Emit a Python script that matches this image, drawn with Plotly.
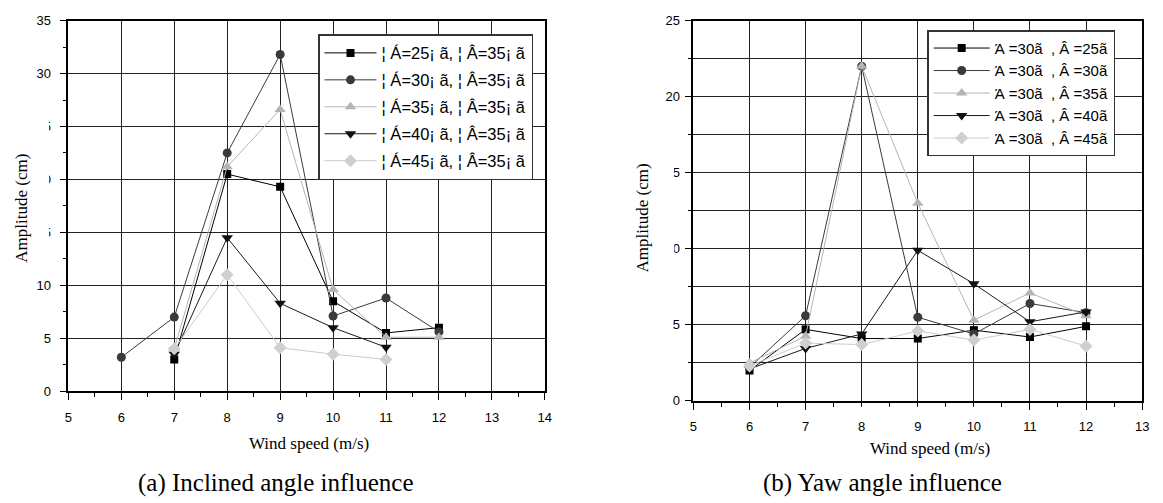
import plotly.graph_objects as go

W, H = 1163, 503

# ---------------- data ----------------
# (a) Inclined angle influence
left_names = ["¦ Á=25¡ ã, ¦ Â=35¡ ã", "¦ Á=30¡ ã, ¦ Â=35¡ ã", "¦ Á=35¡ ã, ¦ Â=35¡ ã",
              "¦ Á=40¡ ã, ¦ Â=35¡ ã", "¦ Á=45¡ ã, ¦ Â=35¡ ã"]
left_x_s1 = [7, 8, 9, 10, 11, 12]
left_y_s1 = [3.0, 20.5, 19.3, 8.5, 5.5, 6.0]
left_x_s2 = [6, 7, 8, 9, 10, 11, 12]
left_y_s2 = [3.2, 7.0, 22.5, 31.8, 7.1, 8.8, 5.6]
left_x_s3 = [7, 8, 9, 10, 11, 12]
left_y_s3 = [4.0, 21.2, 26.6, 9.6, 5.1, 5.1]
left_x_s4 = [7, 8, 9, 10, 11]
left_y_s4 = [3.5, 14.5, 8.3, 6.0, 4.15]
left_x_s5 = [7, 8, 9, 10, 11]
left_y_s5 = [4.0, 11.0, 4.1, 3.5, 3.0]

# (b) Yaw angle influence
right_names = ["Ά =30ã  , Â =25ã", "Ά =30ã  , Â =30ã", "Ά =30ã  , Â =35ã",
               "Ά =30ã  , Â =40ã", "Ά =30ã  , Â =45ã"]
right_x = [6, 7, 8, 9, 10, 11, 12]
right_y_s1 = [2.0, 4.7, 4.1, 4.1, 4.65, 4.2, 4.9]
right_y_s2 = [2.2, 5.6, 22.0, 5.5, 4.4, 6.4, 5.8]
right_y_s3 = [2.5, 4.25, 22.0, 13.0, 5.3, 7.1, 5.6]
right_y_s4 = [2.1, 3.45, 4.4, 9.9, 7.7, 5.2, 5.85]
right_y_s5 = [2.3, 3.8, 3.7, 4.6, 4.0, 4.7, 3.6]

left_tickvals = [0, 5, 10, 15, 20, 25, 30, 35]
right_tickvals = [0, 5, 10, 15, 20, 25]

# ---------------- styles ----------------
symbols = ["square", "circle", "triangle-up", "triangle-down", "diamond"]
mcolors = ["#000000", "#3a3a3a", "#b4b4b4", "#111111", "#cfcfcf"]
lcolors = ["#000000", "#3a3a3a", "#b4b4b4", "#1a1a1a", "#cccccc"]
msizes = [8, 9, 10, 10, 10]

def px_x(p):
    return p / W

def px_y(p):
    return 1 - p / H

fig = go.Figure()

left_data = [(left_x_s1, left_y_s1), (left_x_s2, left_y_s2), (left_x_s3, left_y_s3),
             (left_x_s4, left_y_s4), (left_x_s5, left_y_s5)]
for i, (xs, ys) in enumerate(left_data):
    fig.add_trace(go.Scatter(
        x=xs, y=ys, name=left_names[i], mode="lines+markers",
        line=dict(color=lcolors[i], width=1),
        marker=dict(symbol=symbols[i], size=msizes[i], color=mcolors[i]),
        xaxis="x", yaxis="y", legend="legend", legendgroup="L%d" % i))

right_data = [right_y_s1, right_y_s2, right_y_s3, right_y_s4, right_y_s5]
for i, ys in enumerate(right_data):
    fig.add_trace(go.Scatter(
        x=right_x, y=ys, name=right_names[i], mode="lines+markers",
        line=dict(color=lcolors[i], width=1),
        marker=dict(symbol=symbols[i], size=msizes[i], color=mcolors[i]),
        xaxis="x2", yaxis="y2", legend="legend2"))

tickfont = dict(family="Liberation Sans, Arial", size=13, color="#000")
gridc = "#222222"

common_x = dict(showline=True, linecolor="#000", linewidth=1.5, mirror=True,
                ticks="outside", ticklen=7, tickcolor="#000", tickwidth=1,
                showgrid=True, gridcolor=gridc, gridwidth=1, zeroline=False,
                tickfont=tickfont, dtick=1, tick0=0, ticklabelstandoff=6,
                minor=dict(dtick=0.5, ticks="outside", ticklen=4, tickcolor="#000", showgrid=False))

fig.update_layout(
    width=W, height=H, autosize=False,
    margin=dict(l=0, r=0, t=0, b=0),
    paper_bgcolor="white", plot_bgcolor="white",
    showlegend=True,
    xaxis=dict(domain=[px_x(65), px_x(546)], range=[5, 14], anchor="y", **common_x),
    yaxis=dict(domain=[px_y(396), px_y(14)], range=[0, 35], anchor="x",
               showline=True, linecolor="#000", linewidth=1.5, mirror=True,
               ticks="outside", ticklen=7, tickcolor="#000", tickwidth=1,
               showgrid=True, gridcolor=gridc, gridwidth=1, zeroline=False,
               tickmode="array", tickvals=left_tickvals, tickfont=tickfont,
               ticklabelstandoff=6,
               minor=dict(dtick=2.5, ticks="outside", ticklen=4, tickcolor="#000", showgrid=False)),
    xaxis2=dict(domain=[px_x(696), px_x(1149)], range=[5, 13], anchor="y2", **common_x),
    yaxis2=dict(domain=[px_y(406), px_y(14)], range=[0, 25], anchor="x2",
                showline=True, linecolor="#000", linewidth=1.5, mirror=True,
                ticks="outside", ticklen=7, tickcolor="#000", tickwidth=1,
                showgrid=True, gridcolor=gridc, gridwidth=1, zeroline=False,
                tickmode="array", tickvals=right_tickvals, tickfont=tickfont,
                ticklabelstandoff=2,
                minor=dict(dtick=2.5, ticks="outside", ticklen=4, tickcolor="#000",
                           showgrid=True, gridcolor=gridc, gridwidth=1)),
    legend=dict(x=px_x(317), y=px_y(28), xanchor="left", yanchor="top",
                bgcolor="white", bordercolor="#333", borderwidth=1.5,
                font=dict(family="Liberation Sans, Arial", size=16.5, color="#000"),
                traceorder="grouped", tracegroupgap=2.5, itemwidth=52),
    legend2=dict(x=px_x(932), y=px_y(24), xanchor="left", yanchor="top",
                 bgcolor="white", bordercolor="#333", borderwidth=1.5,
                 font=dict(family="Liberation Sans, Arial", size=15, color="#000"),
                 traceorder="normal", itemwidth=56),
)

serif = "Liberation Serif, Times New Roman"
annos = [
    dict(text="Wind speed (m/s)", x=px_x(308), y=px_y(450), xanchor="center", yanchor="middle",
         font=dict(family=serif, size=17, color="#000")),
    dict(text="Wind speed (m/s)", x=px_x(935), y=px_y(455), xanchor="center", yanchor="middle",
         font=dict(family=serif, size=17, color="#000")),
    dict(text="Amplitude (cm)", x=px_x(18), y=px_y(207), xanchor="center", yanchor="middle",
         textangle=-90, font=dict(family=serif, size=17, color="#000")),
    dict(text="Amplitude (cm)", x=px_x(645), y=px_y(217), xanchor="center", yanchor="middle",
         textangle=-90, font=dict(family=serif, size=17, color="#000")),
    dict(text="(a) Inclined angle influence", x=px_x(133), y=px_y(491), xanchor="left", yanchor="middle",
         font=dict(family=serif, size=25, color="#000")),
    dict(text="(b) Yaw angle influence", x=px_x(764), y=px_y(491), xanchor="left", yanchor="middle",
         font=dict(family=serif, size=25, color="#000")),
]
for a in annos:
    a.update(xref="paper", yref="paper", showarrow=False)
fig.update_layout(annotations=annos)

# partial masking of clipped tick labels, as in the scanned original
masks = [
    (25, 45.5, 114, 132), (25, 45.5, 168, 186), (25, 45.5, 223, 241),   # left 25, 20, 15
    (660, 676.5, 162, 180), (660, 676.5, 241, 259),                       # right 15, 10
    (856, 993, 412, 425.5),                                                # right x 8, 9, 10 tops
]
shapes = []
for x0, x1, y0, y1 in masks:
    shapes.append(dict(type="rect", xref="paper", yref="paper", layer="above",
                       x0=px_x(x0), x1=px_x(x1), y0=px_y(y1), y1=px_y(y0),
                       fillcolor="white", line=dict(width=0)))
fig.update_layout(shapes=shapes)

fig.write_html("out.html", config={"displayModeBar": False},
               post_script="document.body.style.margin='0';document.body.style.overflow='hidden';")
